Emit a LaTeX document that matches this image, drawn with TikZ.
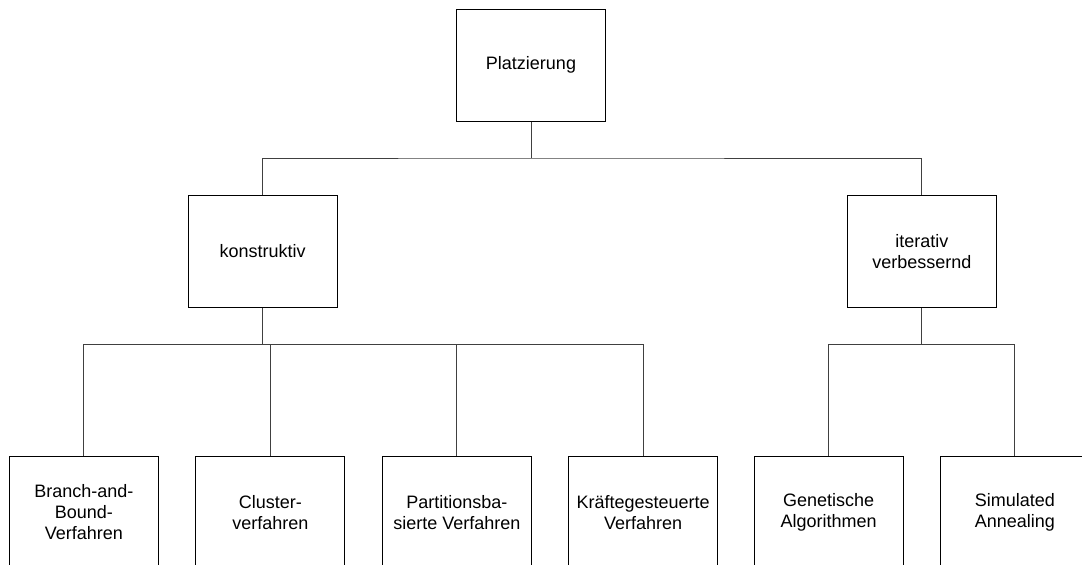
\documentclass[tikz,border=0pt]{standalone}
\usepackage{fontspec}
\setmainfont{Liberation Sans}
\begin{document}
\begin{tikzpicture}[x=1pt,y=-1pt,
  box/.style={draw=black,line width=0.8pt,minimum width=149pt,minimum height=112pt,inner sep=0pt,align=center,
    font=\fontsize{18}{20.8}\selectfont},
  conn/.style={draw=black!75,line width=1pt}]
\useasboundingbox (0,0) rectangle (1082,565);
\clip (0,0) rectangle (1082,565);
\node[box] (top) at (531,65.2) {Platzierung};
\node[box] (kon) at (262.7,251.5) {konstruktiv};
\node[box] (ite) at (921.8,251.5) {iterativ\\verbessernd};
\node[box] (bb) at (83.8,512.3) {Branch-and-\\Bound-\\Verfahren};
\node[box] (cl) at (270.3,512.3) {Cluster-\\verfahren};
\node[box] (pa) at (456.8,512.3) {Partitionsba-\\sierte Verfahren};
\node[box] (kr) at (643.2,512.3) {Kräftegesteuerte\\Verfahren};
\node[box] (ga) at (828.7,512.3) {Genetische\\Algorithmen};
\node[box] (sa) at (1014.8,512.3) {Simulated\\Annealing};
\coordinate (b1) at (531,158);
\coordinate (b2) at (262.7,344.3);
\coordinate (b3) at (921.8,344.3);
\draw[conn] (top.south) -- (b1);
\draw[conn] (kon.north) |- (b1) -| (ite.north);
\draw[conn] (kon.south) -- (b2);
\draw[conn] (bb.north) |- (b2) -| (kr.north);
\draw[conn] (cl.north) |- (b2);
\draw[conn] (pa.north) |- (b2);
\draw[conn] (ite.south) -- (b3);
\draw[conn] (ga.north) |- (b3) -| (sa.north);
\end{tikzpicture}
\end{document}
